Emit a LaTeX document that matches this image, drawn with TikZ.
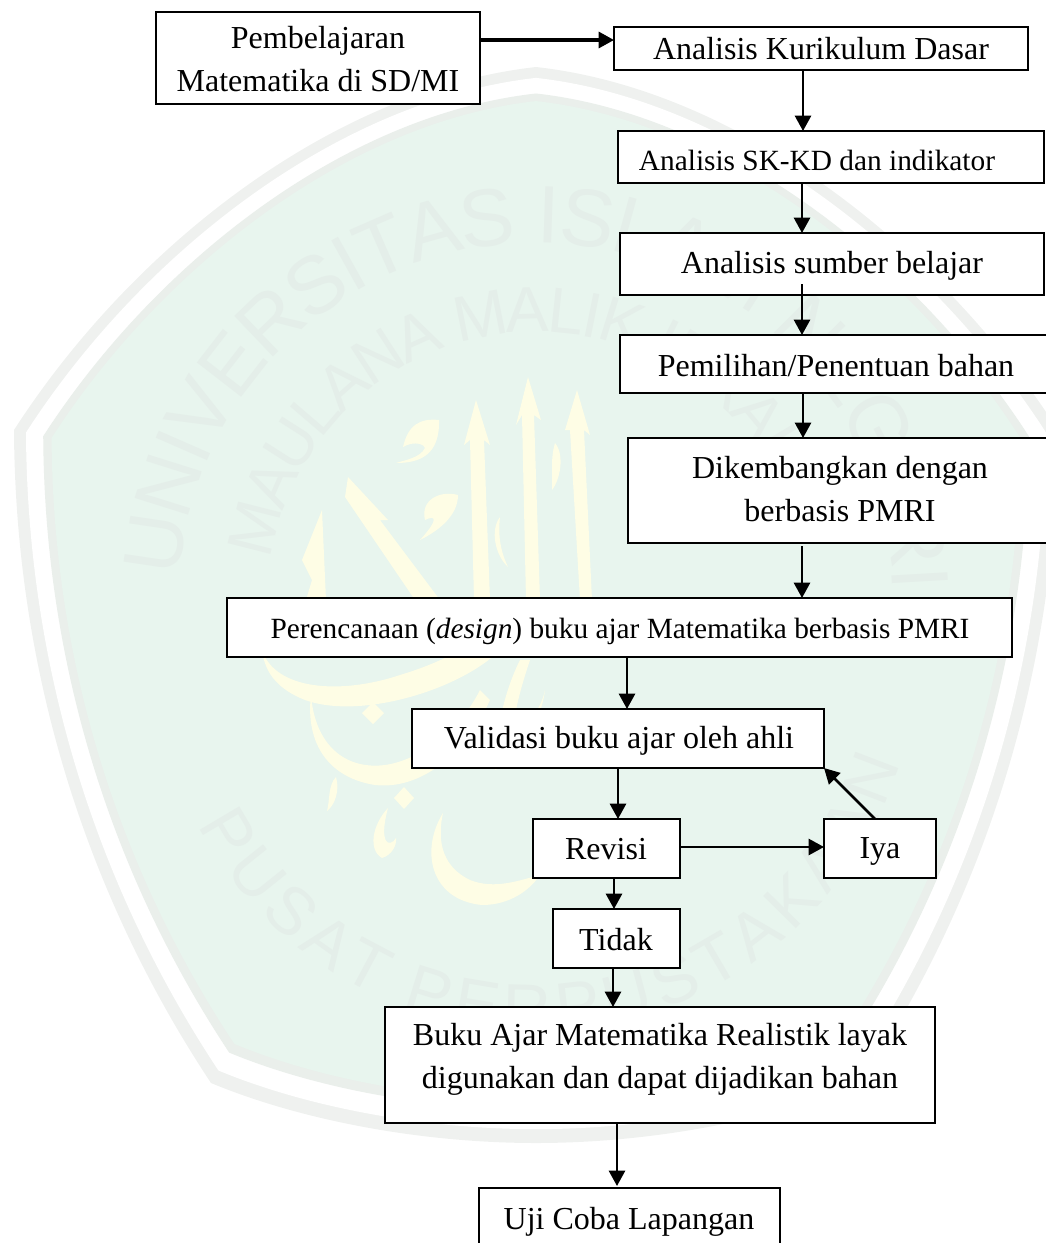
\documentclass[tikz,border=0pt]{standalone}
\usepackage{fontspec}
\setmainfont{Liberation Serif}
\newfontfamily\wmfont{Liberation Sans}
\usetikzlibrary{arrows.meta}
\definecolor{wmband}{RGB}{239,241,239}
\definecolor{wmedge}{RGB}{234,239,235}
\definecolor{wmgreen}{RGB}{232,245,238}
\definecolor{wmletter}{RGB}{228,238,233}
\definecolor{wmyellow}{RGB}{254,253,229}
\tikzset{
  x=0.75pt,y=-0.75pt,
  flowbox/.style={draw=black,fill=white,line width=1.7pt,inner sep=0pt,outer sep=0pt},
  lbl/.style={inner sep=0pt,align=center,font=\fontsize{24}{32.25}\selectfont},
  lblsmall/.style={inner sep=0pt,align=center,font=\fontsize{22}{30}\selectfont},
  conn/.style={draw=black,line width=2pt,-{Triangle[width=12pt,length=11.5pt]}},
  calli/.style={fill=wmyellow,draw=none},
  wmtext/.style={inner sep=0pt,text=wmletter,font=\wmfont\fontsize{#1}{#1}\selectfont},
}
\newcommand{\shieldpath}{(536,67) .. controls (330,90) and (130,250) .. (14,430)
  .. controls (15,640) and (70,870) .. (211,1083)
  .. controls (300,1120) and (420,1143) .. (536,1143)
  .. controls (652,1143) and (772,1120) .. (861,1083)
  .. controls (1002,870) and (1057,640) .. (1058,430)
  .. controls (942,250) and (742,90) .. (536,67) -- cycle}
\newcommand{\flownode}[5]{\node[flowbox,minimum width={(#4-#2)*0.75pt},minimum height={(#5-#3)*0.75pt}] (#1) at ({(#2+#4)/2},{(#3+#5)/2}) {};}
% letters along an arc: name, cx, cy, radius, start angle, degrees per width unit, font size, list
\newcommand{\overarc}[8]{%
  \gdef\acc{#5}%
  \foreach \c/\w [count=\i] in {#8}{%
    \pgfmathsetmacro\th{\acc-\w*#6/2}%
    \pgfmathsetmacro\rt{\th-90}%
    \node[wmtext=#7,rotate=\rt] (#1\i) at ({#2+#4*cos(\th)},{#3-#4*sin(\th)}) {\c};%
    \pgfmathsetmacro\nx{\acc-\w*#6}%
    \global\let\acc\nx
  }}
\newcommand{\underarc}[8]{%
  \gdef\acc{#5}%
  \foreach \c/\w [count=\i] in {#8}{%
    \pgfmathsetmacro\th{\acc-\w*#6/2}%
    \pgfmathsetmacro\rt{90-\th}%
    \node[wmtext=#7,rotate=\rt] (#1\i) at ({#2+#4*cos(\th)},{#3+#4*sin(\th)}) {\c};%
    \pgfmathsetmacro\nx{\acc-\w*#6}%
    \global\let\acc\nx
  }}
\begin{document}
\begin{tikzpicture}
\useasboundingbox (0,0) rectangle (1046,1243);
\begin{scope}
\clip (0,0) rectangle (1046,1243);
% watermark shield
\fill[wmband] \shieldpath;
\begin{scope}[shift={(536,540)},scale=0.977,shift={(-536,-540)}]\fill[white] \shieldpath;\end{scope}
\begin{scope}[shift={(536,540)},scale=0.944,shift={(-536,-540)}]\fill[wmedge] \shieldpath;\end{scope}
\begin{scope}[shift={(536,540)},scale=0.928,shift={(-536,-540)}]\fill[wmgreen] \shieldpath;\end{scope}
% watermark lettering
\overarc{wa}{536}{600}{385}{176}{0.01241}{61}{U/722,N/722,I/278,V/667,E/667,R/722,S/667,I/278,T/611,A/667,S/667,{}/278,I/278,S/667,L/556,A/667,M/833,{}/278,N/722,E/667,G/778,E/667,R/722,I/278}
\overarc{wb}{536}{600}{290}{171}{0.01264}{48}{M/833,A/667,U/722,L/556,A/667,N/722,A/667,{}/278,M/833,A/667,L/556,I/278,K/667,{}/278,I/278,B/667,R/722,A/667,H/722,I/278,M/833}
\underarc{wc}{536}{650}{358}{153.2}{0.01165}{50}{P/667,U/722,S/667,A/667,T/611,{}/278,P/667,E/667,R/722,P/667,U/722,S/667,T/611,A/667,K/667,A/667,A/667,N/722}
% watermark calligraphy
\fill[calli] (476,400) -- (490,445) -- (484,440) -- (490,600) -- (474,600) -- (470,440) -- (464,445) -- cycle;
\fill[calli] (528,377) -- (541,420) -- (534,415) -- (540,600) -- (526,600) -- (522,415) -- (516,425) -- cycle;
\fill[calli] (577,390) -- (590,435) -- (584,430) -- (592,600) -- (580,600) -- (570,430) -- (565,430) -- cycle;
\fill[calli] (348,477) -- (388,520) -- (380,520) -- (440,600) -- (415,600) -- (345,497) -- cycle;
\fill[calli] (322,510) -- (326,600) -- (306,600) -- (312,580) -- (302,560) -- cycle;
\fill[calli] (439,420) .. controls (420,418) and (408,425) .. (403,447) .. controls (415,440) and (425,445) .. (425,448) .. controls (420,458) and (405,460) .. (396,463) .. controls (420,463) and (440,455) .. (439,420) -- cycle;
\fill[calli] (458,495) .. controls (440,490) and (420,500) .. (425,520) .. controls (435,515) and (440,518) .. (420,540) .. controls (440,530) and (458,515) .. (458,495) -- cycle;
\fill[calli] (500,517) .. controls (490,530) and (495,555) .. (508,567) .. controls (500,550) and (498,535) .. (500,517) -- cycle;
\fill[calli] (555,443) .. controls (565,455) and (560,480) .. (552,490) .. controls (553,475) and (550,460) .. (555,443) -- cycle;
\fill[calli] (262,650) .. controls (275,690) and (340,695) .. (400,675) .. controls (450,660) and (480,640) .. (500,620) -- (500,650) .. controls (460,690) and (360,720) .. (305,700) .. controls (280,690) and (265,675) .. (262,650) -- cycle;
\fill[calli] (311,695) .. controls (315,745) and (345,770) .. (385,765) .. controls (420,760) and (460,730) .. (480,690) -- (490,700) .. controls (465,755) and (420,790) .. (375,785) .. controls (330,778) and (305,745) .. (311,695) -- cycle;
\fill[calli] (443,813) .. controls (420,850) and (430,900) .. (482,905) .. controls (510,905) and (530,890) .. (540,875) .. controls (520,880) and (495,890) .. (470,880) .. controls (445,868) and (436,845) .. (443,813) -- cycle;
\fill[calli] (373,702) -- (384,713) -- (373,724) -- (362,713) -- cycle;
\fill[calli] (404,787) -- (414,798) -- (404,809) -- (394,798) -- cycle;
\fill[calli] (336,777) .. controls (328,785) and (330,800) .. (327,811) .. controls (335,805) and (340,790) .. (336,777) -- cycle;
\fill[calli] (388,808) .. controls (372,825) and (368,850) .. (382,858) .. controls (392,855) and (397,845) .. (396,838) .. controls (390,848) and (378,845) .. (388,808) -- cycle;
\fill[calli] (520,660) .. controls (500,700) and (495,745) .. (495,770) .. controls (510,765) and (540,730) .. (545,690) .. controls (540,715) and (520,730) .. (512,735) .. controls (515,710) and (520,690) .. (530,660) -- cycle;
% boxes
\flownode{a}{156}{12}{480}{104}
\flownode{b}{614}{27}{1028}{70}
\flownode{c}{618}{131}{1044}{183}
\flownode{d}{620}{233}{1044}{295}
\flownode{e}{620}{335}{1052}{393}
\flownode{f}{628}{438}{1052}{543}
\flownode{g}{227}{598}{1012}{657}
\flownode{h}{412}{709}{824}{768}
\flownode{r}{533}{819}{680}{878}
\flownode{y}{824}{819}{936}{878}
\flownode{t}{553}{909}{680}{968}
\flownode{k}{385}{1007}{935}{1123}
\flownode{u}{479}{1188}{780}{1252}
% texts
\node[lbl] (aT) at (318,59) {Pembelajaran\\Matematika di SD/MI};
\node[lbl] (bT) at (821,49) {Analisis Kurikulum Dasar};
\node[lblsmall] (cT) at (817,160) {Analisis SK-KD dan indikator};
\node[lbl] (dT) at (832,266) {Analisis sumber belajar};
\node[lbl] (eT) at (836,366) {Pemilihan/Penentuan bahan};
\node[lbl] (fT) at (840,489) {Dikembangkan dengan\\berbasis PMRI};
\node[lblsmall] (gT) at (620,631) {Perencanaan (\textit{design}) buku ajar Matematika berbasis PMRI};
\node[lbl] (hT) at (619,741) {Validasi buku ajar oleh ahli};
\node[lbl] (rT) at (606,849) {Revisi};
\node[lbl] (yT) at (880,851) {Iya};
\node[lbl] (tT) at (616,940) {Tidak};
\node[lbl] (kT) at (660,1059) {Buku Ajar Matematika Realistik layak\\digunakan dan dapat dijadikan bahan};
\node[lbl] (uT) at (629,1222) {Uji Coba Lapangan};
% connectors
\coordinate (abs) at (480,40);
\coordinate (de) at (802,284);
\draw[conn,line width=2.3pt] (a.east |- abs) -- (b.west |- abs);
\draw[conn] (803,70) -- (803,131);
\draw[conn] (802,183) -- (802,233);
\draw[conn] (de) -- (de |- e.north);
\draw[conn] (803,393) -- (803,438);
\draw[conn] (802,546) -- (802,598);
\draw[conn] (627,657) -- (627,709);
\draw[conn] (618,768) -- (618,819);
\draw[conn] (r.east |- 0,847) -- (y.west |- 0,847);
\draw[conn] (875,819) -- (h.south east);
\draw[conn] (614,878) -- (614,909);
\draw[conn] (613,968) -- (613,1007);
\draw[conn] (617,1123) -- (617,1186);
\end{scope}
\end{tikzpicture}
\end{document}
